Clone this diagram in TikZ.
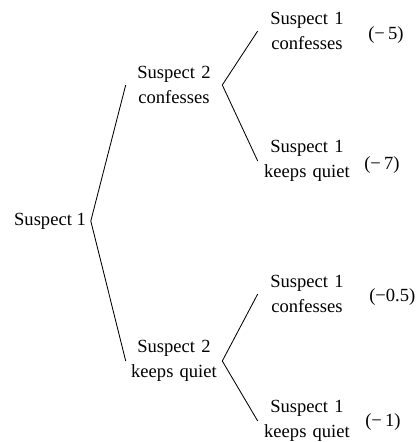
\documentclass[tikz,border=0pt]{standalone}
\usepackage{fontspec}
\setmainfont{Liberation Serif}
\begin{document}
\begin{tikzpicture}[
	x=.025cm,y=-.025cm,
	every node/.style={font=\fontsize{13.2}{17.6}\selectfont},
	mid/.style={align=center,text width=2.2cm,inner xsep=.1cm,inner ysep=0pt},
	leaf/.style={align=center,text width=2.2cm,inner xsep=.125cm,inner ysep=0pt},
	payoff/.style={anchor=west,inner sep=0pt},
	branch/.style={semithick}
]
	\useasboundingbox (0,0) rectangle (418,442);
	\begin{scope}
		\node (root) at (50,221) {Suspect 1};
		\node[mid] (s2c) at (174,85) {Suspect 2\\confesses};
		\node[mid] (s2q) at (174,361) {Suspect 2\\keeps quiet};
	\end{scope}
	\begin{scope}
		\node[leaf] (cc) at (307,31) {Suspect 1\\confesses};
		\node[leaf] (cq) at (307,161) {Suspect 1\\keeps quiet};
		\node[leaf] (qc) at (307,294) {Suspect 1\\confesses};
		\node[leaf] (qq) at (307,421) {Suspect 1\\keeps quiet};
	\end{scope}
	\begin{scope}
		\node[payoff] (pcc) at (368,35) {(−\,5)};
		\node[payoff] (pcq) at (364,165) {(−\,7)};
		\node[payoff] (pqc) at (369,297) {(−0.5)};
		\node[payoff] (pqq) at (365,422) {(−\,1)};
	\end{scope}
	\begin{scope}[branch]
		\draw
			(s2c.west) -- (root.east) -- (s2q.west)
		;
		\draw
			(cc.west) -- (s2c.east) -- (cq.west)
		;
		\draw
			(qc.west) -- (s2q.east) -- (qq.west)
		;
	\end{scope}
\end{tikzpicture}
\end{document}
